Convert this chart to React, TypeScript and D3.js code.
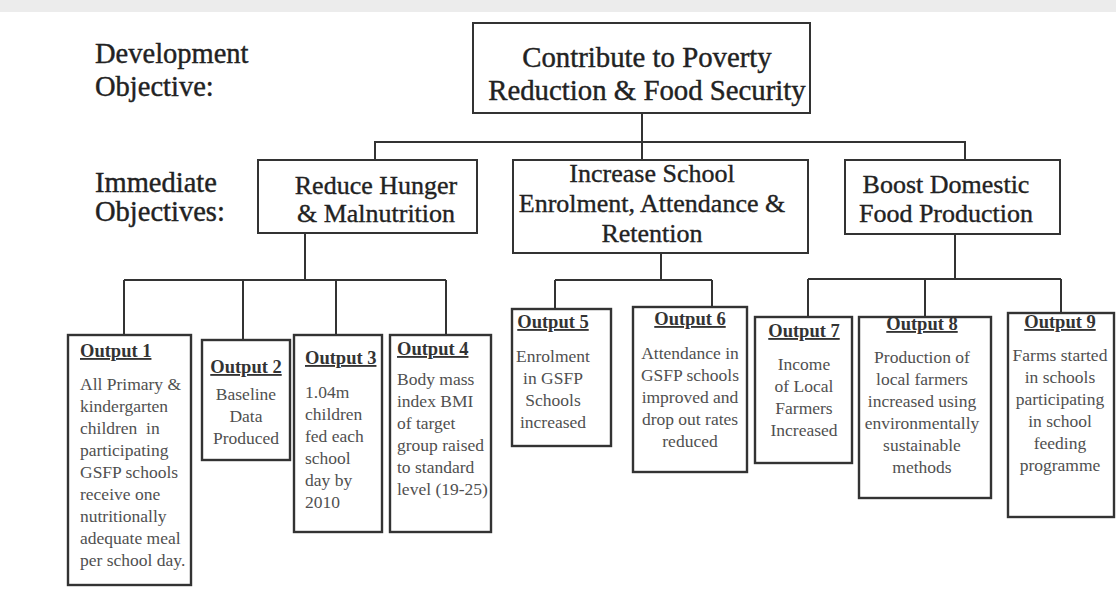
import React from "react";
import * as d3 from "d3";

const W = 1116;
const H = 599;

// ---- content ----
const levelLabels = [
  ["Development", "Objective:"],
  ["Immediate", "Objectives:"],
];
const goalLines = ["Contribute to Poverty", "Reduction & Food Security"];
const objectiveLines = [
  ["Reduce Hunger", "& Malnutrition"],
  ["Increase School", "Enrolment, Attendance &", "Retention"],
  ["Boost Domestic", "Food Production"],
];
const outputTitles = [
  "Output 1", "Output 2", "Output 3", "Output 4", "Output 5",
  "Output 6", "Output 7", "Output 8", "Output 9",
];
const outputLines = [
  ["All Primary &", "kindergarten", "children  in", "participating", "GSFP schools", "receive one", "nutritionally", "adequate meal", "per school day."],
  ["Baseline", "Data", "Produced"],
  ["1.04m", "children", "fed each", "school", "day by", "2010"],
  ["Body mass", "index BMI", "of target", "group raised", "to standard", "level (19-25)"],
  ["Enrolment", "in GSFP", "Schools", "increased"],
  ["Attendance in", "GSFP schools", "improved and", "drop out rates", "reduced"],
  ["Income", "of Local", "Farmers", "Increased"],
  ["Production of", "local farmers", "increased using", "environmentally", "sustainable", "methods"],
  ["Farms started", "in schools", "participating", "in school", "feeding", "programme"],
];
const outputParent = [0, 0, 0, 0, 1, 1, 2, 2, 2];

// ---- layout (kept apart from content) ----
const labelLayout = [
  { x: 95, y: 63, lh: 33 },
  { x: 95, y: 192, lh: 29 },
];
const goalBox = { x0: 473, x1: 810, y0: 23, y1: 113, tx: 647, ty: 67, lh: 33, stemX: 642 };
const objBoxes = [
  { x0: 258, x1: 477, y0: 160, y1: 233, tx: 376, ty: 194, lh: 28, inX: 375, outX: 305, busY: 280 },
  { x0: 513, x1: 808, y0: 160, y1: 253, tx: 652, ty: 182, lh: 30, inX: 642, outX: 661, busY: 280 },
  { x0: 845, x1: 1060, y0: 160, y1: 234, tx: 946, ty: 193, lh: 29, inX: 965, outX: 955, busY: 279 },
];
const topBusY = 142;
const outBoxes = [
  { x0: 68, x1: 191, y0: 335, y1: 585, inX: 124, align: "start", tx: 80, titleY: 357, bodyY: 390 },
  { x0: 202, x1: 290, y0: 340, y1: 460, inX: 243, align: "middle", tx: 246, titleY: 373, bodyY: 400 },
  { x0: 294, x1: 382, y0: 335, y1: 532, inX: 336, align: "start", tx: 305, titleY: 364, bodyY: 398 },
  { x0: 390, x1: 491, y0: 335, y1: 532, inX: 446, align: "start", tx: 397, titleY: 355, bodyY: 385 },
  { x0: 512, x1: 611, y0: 309, y1: 446, inX: 555, align: "middle", tx: 553, titleY: 328, bodyY: 362 },
  { x0: 633, x1: 747, y0: 307, y1: 472, inX: 712, align: "middle", tx: 690, titleY: 325, bodyY: 359 },
  { x0: 755, x1: 852, y0: 317, y1: 463, inX: 808, align: "middle", tx: 804, titleY: 337, bodyY: 370 },
  { x0: 859, x1: 991, y0: 317, y1: 498, inX: 925, align: "middle", tx: 922, titleY: 330, bodyY: 363 },
  { x0: 1008, x1: 1114, y0: 313, y1: 517, inX: 1061, align: "middle", tx: 1060, titleY: 328, bodyY: 361 },
];
const bodyLH = 22;

const FONT = "'Liberation Serif', 'Times New Roman', serif";
const INK = "#222";
const LINE = "#333";

function connectors(): string {
  const p = d3.path();
  // goal stem
  p.moveTo(goalBox.stemX, goalBox.y1);
  p.lineTo(goalBox.stemX, objBoxes[1].y0);
  // top bus
  const xs = objBoxes.map((b) => b.inX);
  p.moveTo(d3.min(xs)!, objBoxes[0].y0);
  p.lineTo(d3.min(xs)!, topBusY);
  p.lineTo(d3.max(xs)!, topBusY);
  p.lineTo(d3.max(xs)!, objBoxes[2].y0);
  // objective -> outputs
  objBoxes.forEach((b, i) => {
    p.moveTo(b.outX, b.y1);
    p.lineTo(b.outX, b.busY);
    const kids = outBoxes.filter((_, k) => outputParent[k] === i);
    const kx = kids.map((k) => k.inX);
    p.moveTo(d3.min(kx)!, b.busY);
    p.lineTo(d3.max(kx)!, b.busY);
    kids.forEach((k) => {
      p.moveTo(k.inX, b.busY);
      p.lineTo(k.inX, k.y0);
    });
  });
  return p.toString();
}

export default function App() {
  return (
    <div style={{ position: "absolute", left: 0, top: 0 }}>
      <svg width={W} height={H} viewBox={`0 0 ${W} ${H}`} style={{ display: "block", background: "#fff" }}>
        <rect x={0} y={0} width={W} height={12} fill="#ececec" />
        <path d={connectors()} fill="none" stroke={LINE} strokeWidth={2} />

        {levelLabels.map((lines, i) => (
          <text key={"lab" + i} fontFamily={FONT} fontSize={28.5} fill={INK} stroke={INK} strokeWidth={0.4}>
            {lines.map((s, j) => (
              <tspan key={j} x={labelLayout[i].x} y={labelLayout[i].y + j * labelLayout[i].lh}>{s}</tspan>
            ))}
          </text>
        ))}

        <rect x={goalBox.x0} y={goalBox.y0} width={goalBox.x1 - goalBox.x0} height={goalBox.y1 - goalBox.y0}
          fill="#fff" stroke={LINE} strokeWidth={2} />
        <text fontFamily={FONT} fontSize={28.8} fill={INK} stroke={INK} strokeWidth={0.4} textAnchor="middle">
          {goalLines.map((s, j) => (
            <tspan key={j} x={goalBox.tx} y={goalBox.ty + j * goalBox.lh}>{s}</tspan>
          ))}
        </text>

        {objBoxes.map((b, i) => (
          <g key={"obj" + i}>
            <rect x={b.x0} y={b.y0} width={b.x1 - b.x0} height={b.y1 - b.y0} fill="#fff" stroke={LINE} strokeWidth={2} />
            <text fontFamily={FONT} fontSize={26} fill={INK} stroke={INK} strokeWidth={0.35} textAnchor="middle">
              {objectiveLines[i].map((s, j) => (
                <tspan key={j} x={b.tx} y={b.ty + j * b.lh}>{s}</tspan>
              ))}
            </text>
          </g>
        ))}

        {outBoxes.map((b, i) => (
          <g key={"out" + i}>
            <rect x={b.x0} y={b.y0} width={b.x1 - b.x0} height={b.y1 - b.y0} fill="#fff" stroke={LINE} strokeWidth={2.4} />
            <text x={b.tx} y={b.titleY} fontFamily={FONT} fontSize={18.5} fontWeight="bold" fill="#333"
              textAnchor={b.align} textDecoration="underline">{outputTitles[i]}</text>
            <text fontFamily={FONT} fontSize={17.5} fill="#505050" textAnchor={b.align} style={{ whiteSpace: "pre" }}>
              {outputLines[i].map((s, j) => (
                <tspan key={j} x={b.tx} y={b.bodyY + j * bodyLH}>{s}</tspan>
              ))}
            </text>
          </g>
        ))}
      </svg>
    </div>
  );
}
